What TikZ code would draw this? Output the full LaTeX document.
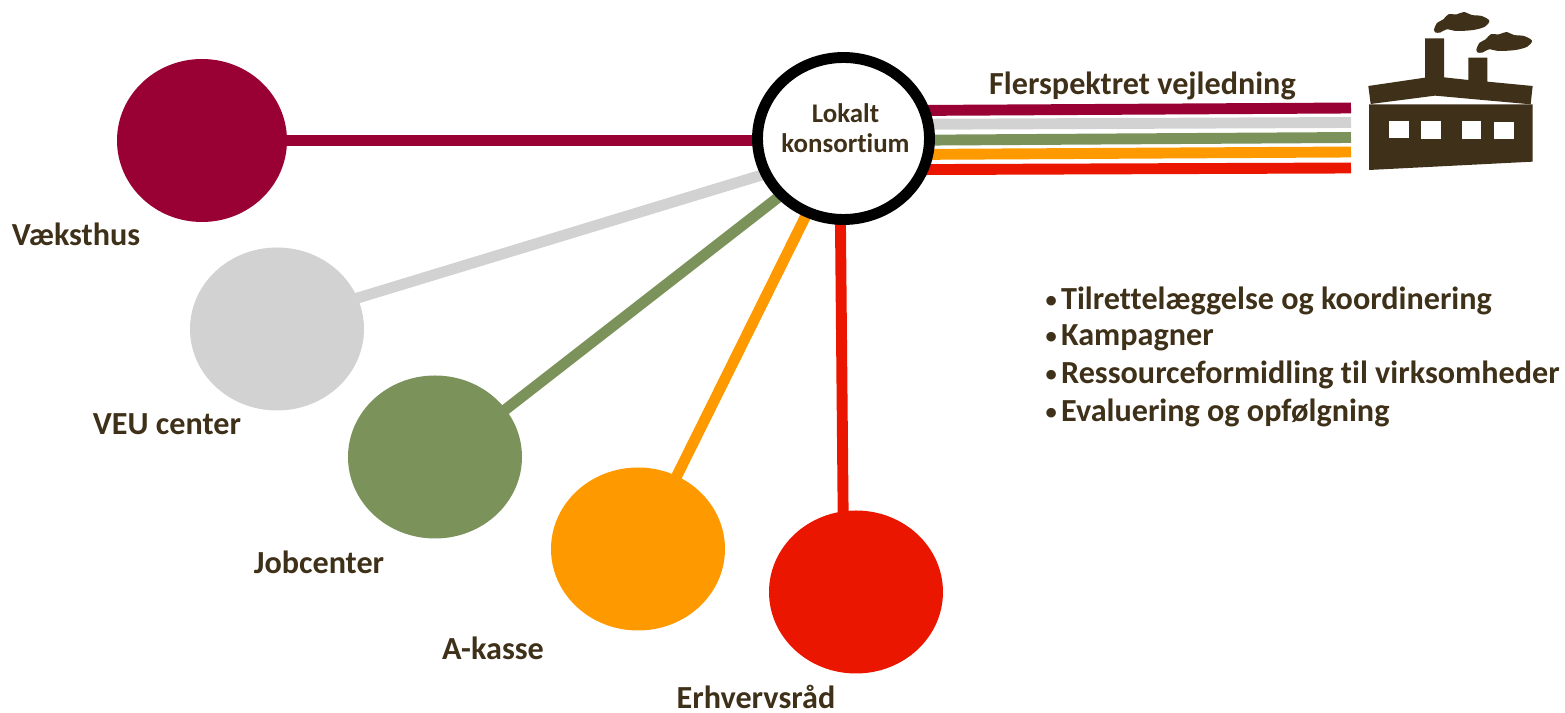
\documentclass[tikz,border=0pt]{standalone}
\usepackage{fontspec}
\setmainfont{Carlito}[BoldFont={Carlito Bold}, Ligatures=CommonOff]
\usetikzlibrary{shapes.geometric, backgrounds}

\definecolor{ink}{HTML}{3F3119}
\definecolor{purple}{HTML}{990033}
\definecolor{silver}{HTML}{D2D2D2}
\definecolor{moss}{HTML}{7B935B}
\definecolor{amber}{HTML}{FF9900}
\definecolor{signal}{HTML}{EB1600}

\newcommand{\itemdot}{\raisebox{0.55pt}{\fontsize{6.4}{8}\selectfont •}\hspace{1.2pt}}

\tikzset{
    partner/.style={ellipse, minimum width=174*0.01cm, minimum height=163*0.01cm, inner sep=0pt},
    spoke/.style={line width=3.1pt, shorten <=-1.5pt, shorten >=-1.5pt},
    strand/.style={line width=3.1pt, shorten <=-1.5pt},
    caption/.style={text=ink, font=\fontsize{9.15}{11}\selectfont\bfseries, inner sep=0pt},
    item/.style={caption, anchor=west}
}

\begin{document}
\begin{tikzpicture}[x=0.01cm, y=-0.01cm]
\useasboundingbox (0,0) rectangle (1565,713);

\begin{scope}[every node/.style={partner}]
    \node[fill=purple, minimum width=170*0.01cm] (vaeksthus) at (202,140.5) {};
    \node[fill=silver] (veu) at (277,329) {};
    \node[fill=moss] (jobcenter) at (435,457) {};
    \node[fill=amber] (akasse) at (638,549) {};
    \node[fill=signal] (raad) at (856,592) {};
\end{scope}

\node[ellipse, draw=black, fill=white, line width=3.1pt, minimum width=172*0.01cm, minimum height=162*0.01cm, inner sep=0pt] (lokalt) at (843.5,138.5) {};
\node[text=ink, align=center, inner sep=0pt, font=\fontsize{7.65}{8.6}\selectfont\bfseries] (lokalttext) at (845.5,128) {Lokalt\\konsortium};

\coordinate (fac1) at (1351,108);
\coordinate (fac2) at (1351,122.5);
\coordinate (fac3) at (1351,137.5);
\coordinate (fac4) at (1351,152);
\coordinate (fac5) at (1351,168);

\begin{pgfonlayer}{background}
\begin{scope}[every path/.style={spoke}]
    \draw[purple] (vaeksthus.east) -- (lokalt.west |- vaeksthus.east);
    \draw[silver] (veu.21.7) -- (lokalt.204.2);
    \draw[moss] (jobcenter.34.1) -- (lokalt.222.8);
    \draw[amber] (akasse.62) -- (lokalt.244.2);
    \draw[signal] (raad.99.5) -- (lokalt.268);
\end{scope}
\begin{scope}[every path/.style={strand}]
    \draw[purple] (lokalt.18) -- (fac1);
    \draw[silver] (lokalt.9.5) -- (fac2);
    \draw[moss] (lokalt.-1) -- (fac3);
    \draw[amber] (lokalt.-10) -- (fac4);
    \draw[signal] (lokalt.-20.3) -- (fac5);
\end{scope}
\end{pgfonlayer}

% labels
\begin{scope}[every node/.style={caption}]
    \node (vaeksthuslabel) at (76,234) {Væksthus};
    \node (veulabel) at (167,424) {VEU center};
    \node (jobcenterlabel) at (319,562) {Jobcenter};
    \node (akasselabel) at (493,648) {A-kasse};
    \node (raadlabel) at (756,696.5) {Erhvervsråd};
    \node (flerspektret) at (1142.5,86) {Flerspektret vejledning};
\end{scope}

\begin{scope}[every node/.style={item}]
    \node (item1) at (1045,301) {\itemdot Tilrettelæggelse og koordinering};
    \node (item2) at (1045,337.5) {\itemdot Kampagner};
    \node (item3) at (1045,375) {\itemdot Ressourceformidling til virksomheder};
    \node (item4) at (1045,413) {\itemdot Evaluering og opfølgning};
\end{scope}

% factory, traced in steps of a third of a pixel
\begin{scope}[shift={(1340,0)}, x=0.01cm/3, y=-0.01cm/3, fill=ink]
    \fill (85,258) -- (255,233) -- (255,115) -- (312,115) -- (312,232) -- (385,240) -- (385,173)
        -- (442,173) -- (442,245) -- (578,258) -- (572,313) -- (285,287) -- (92,312) -- cycle;
    \fill (87,313) -- (578,313) -- (578,485) -- (87,510) -- cycle;
    \fill[white] (148,363) rectangle (206,414);
    \fill[white] (244,364) rectangle (303,416);
    \fill[white] (365,364) rectangle (422,416);
    \fill[white] (461,367) rectangle (521,418);
    \fill plot[smooth cycle] coordinates {(282,90) (290,70) (310,58) (325,43) (350,43) (372,36) (395,45)
        (425,48) (448,62) (435,80) (400,90) (350,93) (320,88) (300,98) (285,97)};
    \fill plot[smooth cycle] coordinates {(409,150) (417,130) (437,118) (452,103) (477,103) (499,96) (522,105)
        (552,108) (576,122) (562,140) (527,150) (477,153) (447,148) (427,158) (412,157)};
\end{scope}

\end{tikzpicture}
\end{document}
